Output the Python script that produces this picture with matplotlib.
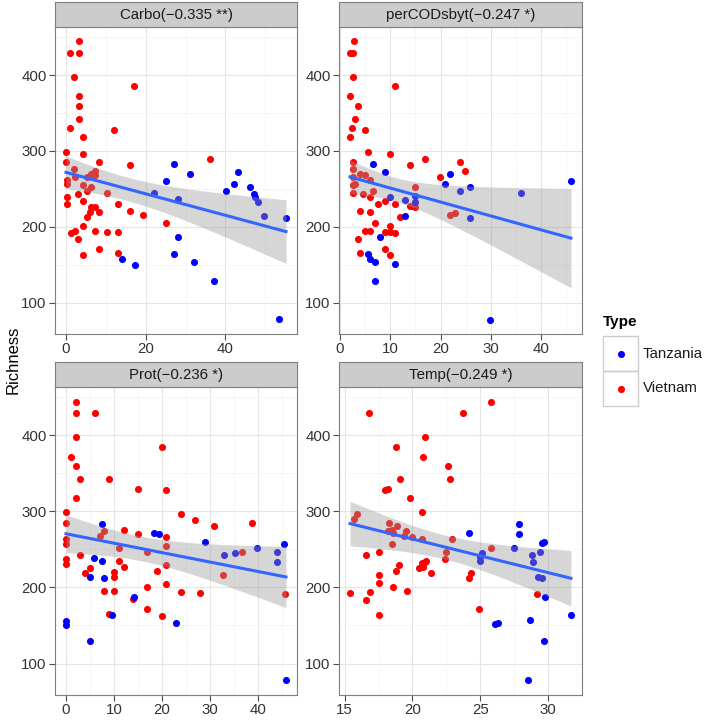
import numpy as np
import matplotlib.pyplot as plt

plt.rcParams['font.family'] = ['Liberation Sans', 'DejaVu Sans']

# ---- data ----
titles = ["Carbo(\u22120.335 **)", "perCODsbyt(\u22120.247 *)",
          "Prot(\u22120.236 *)", "Temp(\u22120.249 *)"]

carbo_viet_x = [3.2, 1.1, 3.2, 2.1, 17.1, 3.2, 3.2, 3.2, 1.1, 12.1, 4.2, 4.2, 0, 0, 8.2, 16.1,
                36.1, 2.1, 7.2, 6.2, 7.2, 0.2, 0.2, 2.2, 5.2, 4.2, 6.2, 5.2, 3.1, 10.2, 4.2, 0.2,
                0.2, 13.1, 6.2, 7.2, 6.0, 8.2, 5.2, 16.0, 19.2, 25.0, 4.2, 1.2, 2.2, 7.2, 10.2,
                13.1, 3.1, 8.2, 4.2, 13.1]
carbo_viet_y = [445, 429, 429, 398, 385, 372, 359, 342, 330, 327, 318, 296, 299, 285, 285, 281,
                289, 276, 274, 270, 268, 261, 257, 265, 266, 255, 252, 247, 243, 245, 234, 239,
                230, 230, 226, 226, 219, 219, 213, 221, 216, 205, 201, 192, 194, 195, 193,
                193, 184, 171, 163, 165]
carbo_tanz_x = [14.1, 17.2, 22.1, 25.2, 27.2, 27.2, 28.1, 28.1, 31.0, 32.1, 37.1, 40.2, 42.2,
                43.2, 46.2, 47.1, 47.3, 48.2, 49.8, 53.5, 55.2]
carbo_tanz_y = [157, 150, 245, 260, 283, 164, 236, 187, 269, 153, 129, 247, 256, 272, 252,
                243, 239, 232, 214, 78, 212]

cod_viet_x = [10.9, 9.9, 13.9, 16.9, 23.9, 24.9, 19.9, 14.9, 8.9, 10.9, 13.9, 14.6, 14.9, 11.9,
              21.9, 22.9, 8.9, 9.9, 9.9, 10.9, 8.9, 9.9,
              2.7, 2.0, 2.6, 2.5, 2.0, 3.5, 3.0, 2.4, 5.0, 2.0, 5.5, 2.5, 2.5, 4.0, 5.0, 2.5,
              6.0, 3.0, 2.5, 6.5, 2.5, 4.5, 6.0, 7.5, 4.0, 6.0, 7.0, 5.0, 6.0, 3.5, 4.0]
cod_viet_y = [385, 296, 281, 289, 285, 274, 265, 252, 234, 230, 227, 227, 226, 213,
              216, 218, 193, 201, 193, 192, 171, 163,
              445, 429, 429, 398, 372, 359, 342, 330, 327, 318, 299, 285, 276, 270, 268, 266,
              261, 257, 255, 247, 245, 243, 239, 230, 221, 219, 205, 195, 194, 184, 165]
cod_tanz_x = [45.9, 35.9, 21.9, 20.9, 23.9, 25.9, 25.9, 12.9, 14.9, 14.9, 12.9, 9.9, 8.9, 10.9,
              7.9, 29.9, 6.5, 6.0, 7.0, 7.0, 5.5]
cod_tanz_y = [260, 245, 269, 256, 247, 252, 212, 235, 241, 233, 214, 239, 272, 151,
              186, 77, 283, 157, 153, 129, 164]

prot_viet_x = [2.1, 2.1, 6.0, 2.1, 20.0, 1.1, 2.1, 3.0, 9.0, 15.0, 20.9, 2.1, 0, 0, 23.9, 26.9,
               30.8, 38.8, 12.0, 8.0, 7.1, 15.0, 20.9, 0, 0, 11.0, 20.9, 17.0, 36.7, 3.0, 0, 0,
               11.0, 20.9, 12.0, 5.1, 4.0, 10.0, 10.0, 19.0, 32.8, 20.9, 17.0, 8.0, 10.0, 23.9,
               27.9, 45.7, 14.0, 17.0, 9.0, 20.0]
prot_viet_y = [444, 429, 429, 398, 385, 372, 359, 343, 342, 330, 328, 318, 299, 285, 296, 289,
               281, 285, 275, 274, 267, 270, 266, 263, 257, 252, 255, 246, 247, 243, 238, 231,
               235, 230, 227, 226, 219, 220, 214, 222, 216, 205, 201, 195, 195, 194,
               193, 192, 185, 171, 165, 163]
prot_tanz_x = [7.6, 18.3, 19.3, 29.1, 5.8, 7.6, 32.9, 35.2, 39.9, 44.1, 45.5, 44.1, 5.1, 8.0,
               14.1, 9.6, 0, 0, 22.9, 5.1, 45.9]
prot_tanz_y = [283, 272, 270, 260, 239, 235, 242, 245, 252, 247, 257, 233, 214, 212,
               187, 164, 156, 151, 153, 129, 78]

temp_viet_x = [25.8, 23.7, 20.9, 18.8, 20.8, 22.6, 22.8, 19.1, 18.0, 18.2, 19.8, 20.7, 18.3,
               18.9, 18.2, 18.5, 18.6, 19.5, 19.4, 20.0, 20.7, 22.9, 18.5, 22.5, 22.4, 25.8,
               19.0, 18.8, 20.5, 20.8, 20.9, 20.7, 21.0, 21.4, 24.3, 24.2, 18.6, 19.6, 15.4,
               15.7, 15.9, 24.9, 29.2, 16.8, 17.5, 17.5, 17.5, 17.5, 16.6, 16.9, 16.6]
temp_viet_y = [444, 429, 398, 385, 372, 359, 343, 342, 328, 330, 318, 299, 285,
               281, 274, 275, 271, 274, 267, 266, 263, 264, 257, 247, 238, 252,
               230, 222, 226, 227, 234, 232, 235, 219, 219, 213, 201, 195, 193,
               290, 296, 171, 192, 429, 216, 206, 164, 246, 243, 194, 184]
temp_tanz_x = [24.2, 27.9, 27.9, 25.1, 25.0, 25.0, 27.5, 28.8, 28.9, 29.4, 29.6, 29.7, 29.3,
               29.6, 29.8, 31.7, 26.1, 26.3, 28.7, 29.7, 28.5]
temp_tanz_y = [272, 283, 270, 245, 240, 235, 252, 243, 233, 247, 258, 260, 214,
               212, 187, 164, 152, 153, 157, 129, 78]

panels = [
    (carbo_viet_x, carbo_viet_y, carbo_tanz_x, carbo_tanz_y, [0, 20, 40]),
    (cod_viet_x, cod_viet_y, cod_tanz_x, cod_tanz_y, [0, 10, 20, 30, 40]),
    (prot_viet_x, prot_viet_y, prot_tanz_x, prot_tanz_y, [0, 10, 20, 30, 40]),
    (temp_viet_x, temp_viet_y, temp_tanz_x, temp_tanz_y, [15, 20, 25, 30]),
]

W, H = 709, 722
fig = plt.figure(figsize=(W / 100, H / 100), dpi=100)

# panel boxes in pixels (left, top, right, bottom)
boxes = [(55, 27, 297, 334), (339, 27, 582, 334),
         (55, 387, 297, 695), (339, 387, 582, 695)]
strip_h = 25

all_y = np.concatenate([np.r_[p[1], p[3]] for p in panels])
ylo, yhi = all_y.min(), all_y.max()
ypad = (yhi - ylo) * 0.05
txt_col = "#333333"

for (vx, vy, tx, ty, xt), (l, t, r, b), title in zip(panels, boxes, titles):
    ax = fig.add_axes([l / W, 1 - b / H, (r - l) / W, (b - t) / H])
    x = np.r_[vx, tx].astype(float)
    y = np.r_[vy, ty].astype(float)

    ax.set_facecolor("white")
    xt = np.array(xt)
    step = xt[1] - xt[0]
    ax.set_xticks(xt)
    ax.set_xticks(np.arange(xt[0] - step / 2, xt[-1] + step, step), minor=True)
    ax.set_yticks([100, 200, 300, 400])
    ax.set_yticks([150, 250, 350, 450], minor=True)
    xpad = (x.max() - x.min()) * 0.05
    ax.set_xlim(x.min() - xpad, x.max() + xpad)
    ax.set_ylim(ylo - ypad, yhi + ypad)
    ax.grid(True, which="major", color="#e5e5e5", lw=0.8)
    ax.grid(True, which="minor", color="#f5f5f5", lw=0.6)
    ax.set_axisbelow(True)
    for s in ax.spines.values():
        s.set_color("#7f7f7f")
        s.set_linewidth(0.8)
    ax.tick_params(which="major", length=4, width=0.8, color="#4d4d4d",
                   labelsize=10.8, labelcolor=txt_col, pad=2)
    ax.tick_params(which="minor", length=0)

    ax.scatter(vx, vy, s=26, c="#ff0000", lw=0, zorder=2)
    ax.scatter(tx, ty, s=26, c="#0000ff", lw=0, zorder=2)

    # linear fit with 95% confidence band
    n = len(x)
    slope, inter = np.polyfit(x, y, 1)
    xs = np.linspace(x.min(), x.max(), 80)
    resid = y - (slope * x + inter)
    s_err = np.sqrt(np.sum(resid ** 2) / (n - 2))
    se = s_err * np.sqrt(1 / n + (xs - x.mean()) ** 2 / np.sum((x - x.mean()) ** 2))
    fit = slope * xs + inter
    ax.fill_between(xs, fit - 1.994 * se, fit + 1.994 * se, color="#999999",
                    alpha=0.4, lw=0, zorder=3)
    ax.plot(xs, fit, color="#3366ff", lw=2.2, zorder=4)

    # strip header
    sax = fig.add_axes([l / W, 1 - t / H, (r - l) / W, strip_h / H])
    sax.set_facecolor("#cccccc")
    sax.set_xticks([])
    sax.set_yticks([])
    for s in sax.spines.values():
        s.set_color("#7f7f7f")
        s.set_linewidth(0.8)
    sax.text(0.5, 0.48, title, ha="center", va="center", fontsize=10.8,
             color="#1a1a1a", transform=sax.transAxes)

fig.text(13 / W, 1 - 360 / H, "Richness", rotation=90, ha="center", va="center",
         fontsize=12, color="black")

# legend
fig.text(603 / W, 1 - 322 / H, "Type", ha="left", va="center", fontsize=11,
         fontweight="bold")
lax = fig.add_axes([0, 0, 1, 1], facecolor="none")
lax.set_xlim(0, W)
lax.set_ylim(H, 0)
lax.axis("off")
for i, (lab, col) in enumerate([("Tanzania", "#0000ff"), ("Vietnam", "#ff0000")]):
    top = 336 + i * 35
    lax.add_patch(plt.Rectangle((603, top), 35, 35, fill=False, ec="#cccccc", lw=1))
    lax.scatter([620.5], [top + 17.5], s=26, c=col, lw=0)
    lax.text(643, top + 17.5, lab, ha="left", va="center", fontsize=10.8, color="#1a1a1a")

fig.savefig("out.png", dpi=100)
